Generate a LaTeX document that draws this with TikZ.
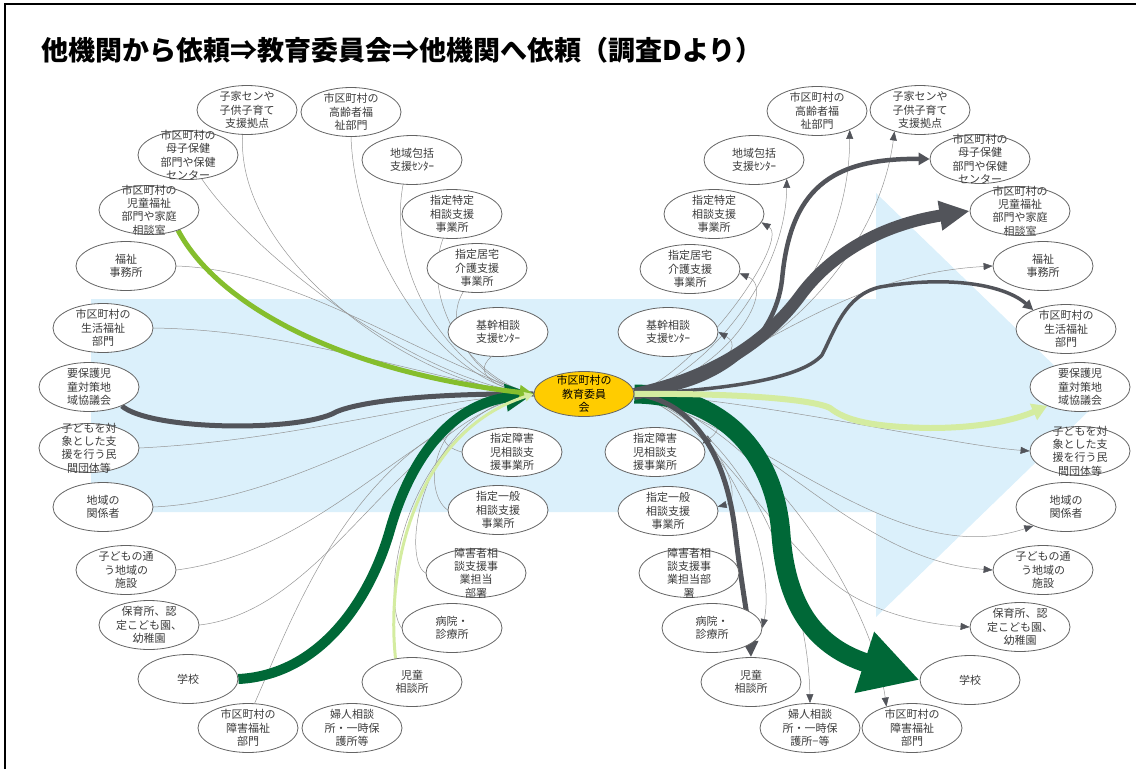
\documentclass[tikz,border=0pt]{standalone}
\usepackage{fontspec}
\setmainfont{Noto Sans CJK JP}
\usetikzlibrary{arrows.meta,positioning,shapes.geometric,backgrounds}
\definecolor{bgblue}{RGB}{219,240,251}
\definecolor{dkgreen}{RGB}{0,104,55}
\definecolor{ygreen}{RGB}{133,190,45}
\definecolor{lgreen}{RGB}{212,236,160}
\definecolor{dkgray}{RGB}{82,84,90}
\definecolor{wiregray}{RGB}{150,150,150}
\definecolor{entline}{RGB}{100,100,100}
\definecolor{enttxt}{RGB}{60,60,60}
\definecolor{boeyellow}{RGB}{255,204,0}

\begin{document}
\begin{tikzpicture}[x=1pt,y=-1pt,
  ent/.style={ellipse,draw=entline,fill=white,line width=0.8pt,minimum width=100pt,minimum height=49pt,inner sep=0pt},
  boe/.style={ent,fill=boeyellow,minimum height=45pt},
  enttext/.style={align=center,font=\fontsize{11}{13.3}\selectfont,text=enttxt,inner sep=0pt},
  wire/.style={draw=wiregray,line width=0.5pt},
  wirearr/.style={wire,-{Triangle[width=7pt,length=9pt,color=dkgray]}}]
  \useasboundingbox (0,0) rectangle (1136,769);
  \draw[line width=2pt] (5,769) -- (5,4) -- (1136,4);
  \node[anchor=west,font=\fontsize{27}{31}\selectfont\bfseries] (title) at (38,50) {他機関から依頼⇒教育委員会⇒他機関へ依頼（調査Dより）};

  % centre
  \node[boe] (C) at (584,394) {};
  \node[enttext,text=black] (C-t) at (C) {市区町村の\\教育委員\\会};

  % left side
  \foreach \nm/\px/\py/\txt in {
    L1/247/110/{子家センや\\子供子育て\\支援拠点},
    L2/351/112/{市区町村の\\高齢者福\\祉部門},
    L3/188/155/{市区町村の\\母子保健\\部門や保健\\センター},
    L4/412/160/{地域包括\\支援ｾﾝﾀｰ},
    L5/149/210/{市区町村の\\児童福祉\\部門や家庭\\相談室},
    L6/452/214/{指定特定\\相談支援\\事業所},
    L7/126/266/{福祉\\事務所},
    L8/477/268/{指定居宅\\介護支援\\事業所},
    L9/103/328/{市区町村の\\生活福祉\\部門},
    L10/498/332/{基幹相談\\支援ｾﾝﾀｰ},
    L11/89/387/{要保護児\\童対策地\\域協議会},
    L13/89/448/{子どもを対\\象とした支\\援を行う民\\間団体等},
    L14/512/452/{指定障害\\児相談支\\援事業所},
    L15/103/507/{地域の\\関係者},
    L16/498/510/{指定一般\\相談支援\\事業所},
    L17/126/570/{子どもの通\\う地域の\\施設},
    L18/476/573/{障害者相\\談支援事\\業担当\\部署},
    L19/149/625/{保育所、認\\定こども園、\\幼稚園},
    L20/452/628/{病院・\\診療所},
    L21/188/679/{学校},
    L22/412/682/{児童\\相談所},
    L23/248/728/{市区町村の\\障害福祉\\部門},
    L24/352/728/{婦人相談\\所・一時保\\護所等}}{
    \node[ent] (\nm) at (\px,\py) {};
    \node[enttext] (\nm-t) at (\nm) {\txt};
  }

  % right side
  \foreach \nm/\px/\py/\txt in {
    R1/817/111/{市区町村の\\高齢者福\\祉部門},
    R2/920/110/{子家センや\\子供子育て\\支援拠点},
    R3/754/160/{地域包括\\支援ｾﾝﾀｰ},
    R4/980/159/{市区町村の\\母子保健\\部門や保健\\センター},
    R5/714/214/{指定特定\\相談支援\\事業所},
    R6/1020/211/{市区町村の\\児童福祉\\部門や家庭\\相談室},
    R7/690/269/{指定居宅\\介護支援\\事業所},
    R8/1043/266/{福祉\\事務所},
    R9/668/332/{基幹相談\\支援ｾﾝﾀｰ},
    R10/1066/329/{市区町村の\\生活福祉\\部門},
    R11/1080/387/{要保護児\\童対策地\\域協議会},
    R12/1080/451/{子どもを対\\象とした支\\援を行う民\\間団体等},
    R13/655/452/{指定障害\\児相談支\\援事業所},
    R14/1066/507/{地域の\\関係者},
    R15/668/511/{指定一般\\相談支援\\事業所},
    R16/1043/570/{子どもの通\\う地域の\\施設},
    R17/689/573/{障害者相\\談支援事\\業担当部\\署},
    R18/1020/627/{保育所、認\\定こども園、\\幼稚園},
    R19/712/628/{病院・\\診療所},
    R20/970/680/{学校},
    R21/751/682/{児童\\相談所},
    R22/810/728/{婦人相談\\所・一時保\\護所−等},
    R23/912/728/{市区町村の\\障害福祉\\部門}}{
    \node[ent] (\nm) at (\px,\py) {};
    \node[enttext] (\nm-t) at (\nm) {\txt};
  }

  \begin{scope}[on background layer]
    % big pale arrow
    \fill[bgblue] (91,299) -- (876,299) -- (876,193) -- (1095,405) -- (876,617) -- (876,512) -- (91,512) -- cycle;

    % requests coming in
    \draw[wire] (L1.-100) .. controls (235,260) and (420,390) .. (C.west);
    \draw[wire] (L2.-90) .. controls (355,250) and (440,385) .. (C.west);
    \draw[wire] (L3.-60) .. controls (250,250) and (410,380) .. (C.west);
    \draw[wire] (L4.-110) .. controls (385,280) and (460,385) .. (C.west);
    \draw[wire] (L6.-110) .. controls (420,300) and (470,380) .. (C.west);
    \draw[wire] (L7.east) .. controls (300,270) and (420,360) .. (C.west);
    \draw[wire] (L8.-120) .. controls (440,330) and (480,385) .. (C.west);
    \draw[wire] (L9.east) .. controls (300,330) and (430,380) .. (C.west);
    \draw[wire] (L10.-105) .. controls (470,375) and (500,390) .. (C.west);
    \draw[wire] (L13.east) .. controls (300,440) and (420,400) .. (C.west);
    \draw[wire] (L14.west) .. controls (420,440) and (450,400) .. (C.west);
    \draw[wire] (L15.east) .. controls (300,500) and (420,400) .. (C.west);
    \draw[wire] (L16.west) .. controls (420,490) and (430,400) .. (C.west);
    \draw[wire] (L17.east) .. controls (330,550) and (420,410) .. (C.west);
    \draw[wire] (L18.west) .. controls (400,560) and (420,410) .. (C.west);
    \draw[wire] (L19.east) .. controls (330,610) and (400,420) .. (C.west);
    \draw[wire] (L20.west) .. controls (380,600) and (400,430) .. (C.west);
    \draw[wire] (L23.75) .. controls (300,600) and (360,430) .. (C.west);
    \draw[line width=5pt,dkgray] (L11.-30) .. controls (150,430) and (290,432) .. (332,414) .. controls (350,403) and (420,393) .. (C.west);
    \draw[line width=10pt,dkgreen,-{Triangle[width=26pt,length=28pt]}] (L21.east) .. controls (320,675) and (370,600) .. (390,530) .. controls (410,460) and (450,405) .. (C.west);
    \draw[line width=5pt,ygreen,-{Triangle[width=14pt,length=14pt]}] (L5.-35) .. controls (215,300) and (330,370) .. (C.west);
    \draw[line width=3pt,lgreen,-{Triangle[width=9pt,length=9pt]}] (L22.125) .. controls (385,560) and (420,430) .. (C.west);

    % requests going out
    \draw[wirearr] (C.east) .. controls (740,385) and (849,280) .. (R1.-30);
    \draw[wirearr] (C.east) .. controls (760,380) and (878,260) .. (R2.-140);
    \draw[wirearr] (C.east) .. controls (700,380) and (786,280) .. (R3.-30);
    \draw[wirearr] (C.east) .. controls (700,370) and (790,240) .. (R5.-10);
    \draw[wirearr] (C.east) .. controls (720,380) and (780,290) .. (R7.-5);
    \draw[wirearr] (C.east) .. controls (750,370) and (830,275) .. (R8.west);
    \draw[wirearr] (C.east) .. controls (700,385) and (750,350) .. (R9.east);
    \draw[wirearr] (C.east) .. controls (760,400) and (950,445) .. (R12.west);
    \draw[wirearr] (C.east) .. controls (700,400) and (735,420) .. (R13.10);
    \draw[wirearr] (C.east) .. controls (780,440) and (900,570) .. (R14.-150);
    \draw[wirearr] (C.east) .. controls (720,420) and (745,500) .. (R15.5);
    \draw[wirearr] (C.east) .. controls (760,420) and (850,560) .. (R16.west);
    \draw[wirearr] (C.east) .. controls (720,420) and (780,560) .. (860,600) .. controls (900,620) and (940,625) .. (R18.west);
    \draw[wirearr] (C.east) .. controls (740,430) and (775,570) .. (R19.east);
    \draw[wirearr] (C.east) .. controls (740,420) and (808,580) .. (R22.north);
    \draw[wirearr] (C.east) .. controls (760,420) and (872,600) .. (R23.140);
    \draw[line width=19pt,dkgreen,-{Triangle[width=60pt,length=58pt]}] (C.east) .. controls (720,395) and (775,450) .. (781,535) .. controls (786,600) and (810,645) .. (R20.west);
    \draw[line width=12pt,dkgray,-{Triangle[width=28pt,length=30pt]}] (C.east) .. controls (700,380) and (760,350) .. (800,296) .. controls (830,255) and (880,225) .. (R6.west);
    \draw[line width=4.5pt,dkgray,-{Triangle[width=12pt,length=11pt]}] (C.east) .. controls (720,390) and (775,340) .. (782,280) .. controls (790,190) and (830,158) .. (R4.west);
    \draw[line width=3.5pt,dkgray,-{Triangle[width=10pt,length=10pt]}] (C.east) .. controls (720,390) and (800,380) .. (822,355) .. controls (835,330) and (845,295) .. (880,287) .. controls (950,275) and (1005,285) .. (R10.150);
    \draw[line width=5pt,dkgray,-{Triangle[width=15pt,length=16pt]}] (C.east) .. controls (690,400) and (725,450) .. (735,530) .. controls (742,590) and (750,630) .. (R21.north);
    \draw[line width=6pt,lgreen,-{Triangle[width=17pt,length=15pt]}] (C.east) .. controls (720,393) and (810,398) .. (830,408) .. controls (845,420) and (870,427) .. (930,428) .. controls (980,428) and (1015,420) .. (R11.-150);
  \end{scope}
\end{tikzpicture}
\end{document}
